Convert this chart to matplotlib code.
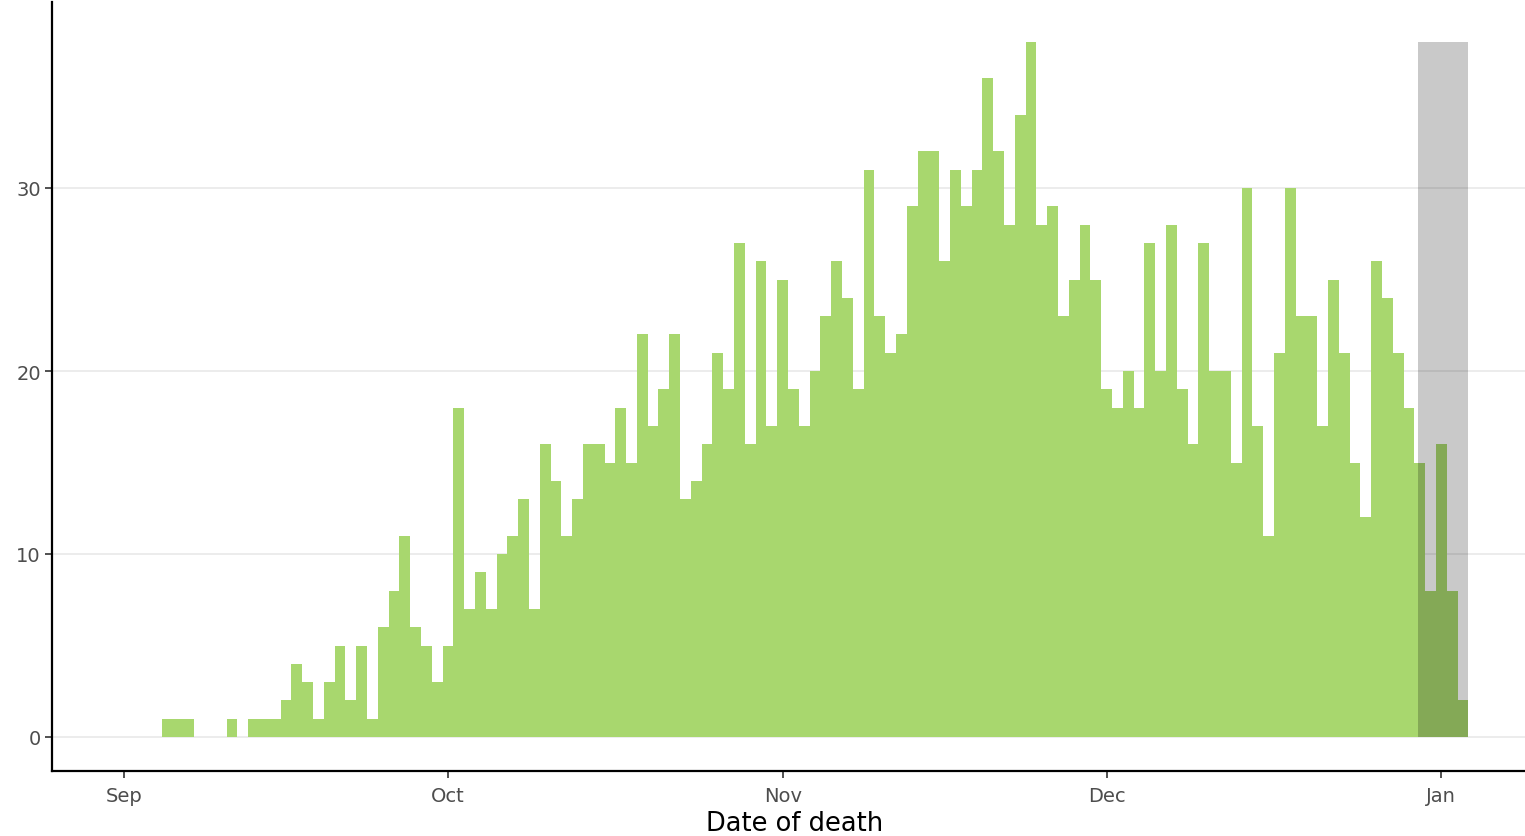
import matplotlib
matplotlib.use("Agg")
import matplotlib.pyplot as plt
import matplotlib.dates as mdates
import numpy as np
import datetime as dt

# ---- data: daily deaths by date of death ----
start_date = "2020-09-01"
sep_counts = [0, 0, 0, 0, 1, 1, 1, 0, 0, 0, 1, 0, 1, 1, 1, 2, 4, 3, 1, 3,
              5, 2, 5, 1, 6, 8, 11, 6, 5, 3]
oct_counts = [5, 18, 7, 9, 7, 10, 11, 13, 7, 16, 14, 11, 13, 16, 16, 15, 18, 15, 22, 17,
              19, 22, 13, 14, 16, 21, 19, 27, 16, 26, 17]
nov_counts = [25, 19, 17, 20, 23, 26, 24, 19, 31, 23, 21, 22, 29, 32, 32, 26, 31, 29, 31, 36,
              32, 28, 34, 38, 28, 29, 23, 25, 28, 25]
dec_counts = [19, 18, 20, 18, 27, 20, 28, 19, 16, 27, 20, 20, 15, 30, 17, 11, 21, 30, 23, 23,
              17, 25, 21, 15, 12, 26, 24, 21, 18, 15, 8]
jan_counts = [16, 8, 2]

# incomplete-reporting window (shaded)
shade_start = "2020-12-30"
shade_end = "2021-01-03"

tick_dates = ["2020-09-01", "2020-10-01", "2020-11-01", "2020-12-01", "2021-01-01"]
tick_labels = ["Sep", "Oct", "Nov", "Dec", "Jan"]
y_ticks = [0, 10, 20, 30]
x_label = "Date of death"

counts = sep_counts + oct_counts + nov_counts + dec_counts + jan_counts
d0 = dt.date.fromisoformat(start_date)
dates = [d0 + dt.timedelta(days=i) for i in range(len(counts))]
xnum = mdates.date2num(dates)

# ---- figure ----
fig = plt.figure(figsize=(15.25, 8.37), dpi=100)
ax = fig.add_axes([52 / 1525, 65 / 837, 1 - 52 / 1525, (772 - 3) / 837])

for y in y_ticks:
    ax.axhline(y, color="#ebebeb", lw=1.3, zorder=0)

ax.bar(xnum, counts, width=1.0, align="center", color="#a8d76e", lw=0, zorder=2)

s0 = mdates.date2num(dt.date.fromisoformat(shade_start)) - 0.2
s1 = mdates.date2num(dt.date.fromisoformat(shade_end)) + 0.5
ax.bar((s0 + s1) / 2, max(counts), width=s1 - s0, color="black", alpha=0.21,
       lw=0, zorder=3)

sep1 = mdates.date2num(d0)
ax.set_xlim(sep1 - 6.67, sep1 + 129.75)
ax.set_ylim(-34 / 18.3, 735 / 18.3)

ax.set_xticks([mdates.date2num(dt.date.fromisoformat(d)) for d in tick_dates])
ax.set_xticklabels(tick_labels)
ax.set_yticks(y_ticks)
ax.set_yticklabels([str(v) for v in y_ticks])

for side in ["top", "right"]:
    ax.spines[side].set_visible(False)
for side in ["left", "bottom"]:
    ax.spines[side].set_linewidth(1.6)
    ax.spines[side].set_color("black")

ax.tick_params(axis="both", colors="#222222", length=5, width=1.1,
               labelsize=14, labelcolor="#4d4d4d")
ax.tick_params(axis="x", pad=5.5)
ax.tick_params(axis="y", pad=3)
ax.set_xlabel(x_label, fontsize=18.5, color="black", labelpad=4)
ax.xaxis.label.set_x((795 - 52) / (1525 - 52))

fig.savefig("out.png", dpi=100)
